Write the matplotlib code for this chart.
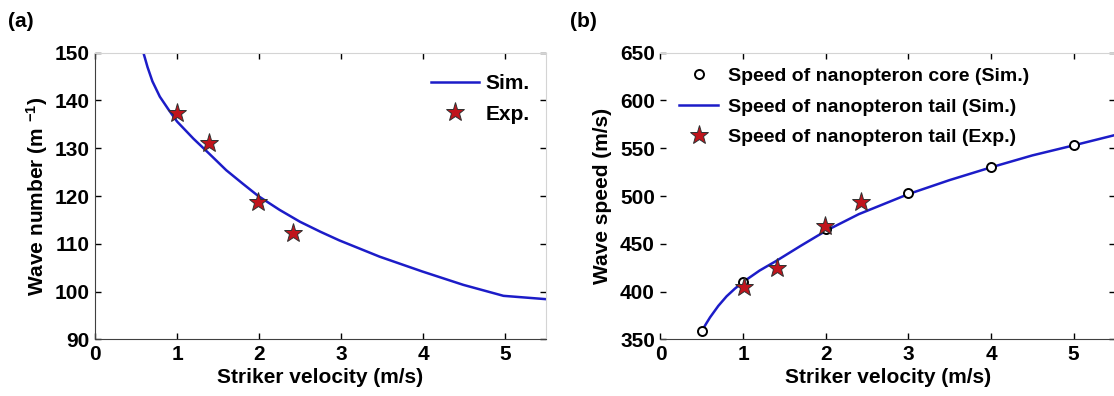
import matplotlib
matplotlib.use("Agg")
import matplotlib.pyplot as plt

plt.rcParams["font.family"] = ["Liberation Sans", "DejaVu Sans"]
plt.rcParams["font.weight"] = "bold"
plt.rcParams["mathtext.fontset"] = "custom"
plt.rcParams["mathtext.rm"] = "Liberation Sans:bold"
plt.rcParams["mathtext.it"] = "Liberation Sans:bold"
plt.rcParams["mathtext.bf"] = "Liberation Sans:bold"

# (a) wave number vs striker velocity
sim_a_x = [0.59, 0.64, 0.7, 0.79, 0.9, 1.0, 1.2, 1.39, 1.6, 1.8, 1.99, 2.25, 2.5,
           2.75, 2.98, 3.47, 3.99, 4.49, 4.98, 5.5]
sim_a_y = [150.0, 147.0, 144.0, 140.8, 138.0, 135.6, 132.0, 128.9, 125.4, 122.6,
           120.0, 117.1, 114.6, 112.5, 110.7, 107.3, 104.2, 101.4, 99.1, 98.4]
exp_a_x = [0.995, 1.39, 1.99, 2.42]
exp_a_y = [137.3, 131.0, 118.7, 112.3]

# (b) wave speed vs striker velocity
core_x = [0.5, 1, 2, 3, 4, 5]
core_y = [358.7, 410.3, 465.1, 502.8, 530.7, 553.4]
tail_sim_x = [0.5, 0.55, 0.6, 0.7, 0.8, 0.9, 1.0, 1.2, 1.4, 1.7, 2.0, 2.4, 3.0,
              3.5, 4.0, 4.5, 5.0, 5.5]
tail_sim_y = [358.5, 366.0, 373.0, 385.0, 395.0, 403.0, 410.0, 422.0, 432.0, 448.0,
              463.5, 481.0, 502.0, 516.7, 530.0, 542.5, 553.0, 563.8]
tail_exp_x = [1.01, 1.41, 1.99, 2.43]
tail_exp_y = [405.0, 425.0, 468.6, 494.0]

blue = "#1c1cc8"
star_red = "#c0141c"

fig = plt.figure(figsize=(11.14, 3.96), dpi=100)
ax1 = fig.add_axes([0.0853, 0.1432, 0.4049, 0.7237])
ax2 = fig.add_axes([0.5929, 0.1432, 0.4080, 0.7237])


def style(ax):
    ax.tick_params(direction="in", length=4, width=1, labelsize=15,
                   top=True, right=True, pad=4)
    for s in ["top", "right"]:
        ax.spines[s].set_color("#d4d4d4")
    for s in ["left", "bottom"]:
        ax.spines[s].set_color("#404040")
    ax.set_xlabel("Striker velocity (m/s)", fontsize=15, fontweight="bold", labelpad=3)
    for lab in ax.get_xticklabels() + ax.get_yticklabels():
        lab.set_fontweight("bold")


# panel (a)
ax1.plot(sim_a_x, sim_a_y, color=blue, lw=1.8, label="Sim.")
ax1.plot(exp_a_x, exp_a_y, ls="none", marker="*", ms=14, mfc=star_red,
         mec="#303030", mew=0.7, label="Exp.")
ax1.set_xlim(0, 5.5)
ax1.set_ylim(90, 150)
ax1.set_xticks([0, 1, 2, 3, 4, 5])
ax1.set_yticks([90, 100, 110, 120, 130, 140, 150])
ax1.set_ylabel(r"Wave number (m $^{-1}$)", fontsize=15, fontweight="bold", labelpad=3.5)
style(ax1)
ax1.legend(loc="upper right", frameon=False, fontsize=15, handlelength=2.3,
           borderaxespad=0.5, labelspacing=0.54, handletextpad=0.35,
           bbox_to_anchor=(1.006, 0.99))

# panel (b)
ax2.plot(core_x, core_y, ls="none", marker="o", ms=6.5, mfc="white", mec="black",
         mew=1.4, label="Speed of nanopteron core (Sim.)", zorder=3)
ax2.plot(tail_sim_x, tail_sim_y, color=blue, lw=1.8,
         label="Speed of nanopteron tail (Sim.)")
ax2.plot(tail_exp_x, tail_exp_y, ls="none", marker="*", ms=14, mfc=star_red,
         mec="#303030", mew=0.7, label="Speed of nanopteron tail (Exp.)", zorder=4)
ax2.set_xlim(0, 5.5)
ax2.set_ylim(350, 650)
ax2.set_xticks([0, 1, 2, 3, 4, 5])
ax2.set_yticks([350, 400, 450, 500, 550, 600, 650])
ax2.set_ylabel("Wave speed (m/s)", fontsize=15, fontweight="bold", labelpad=6)
style(ax2)
ax2.spines["left"].set_visible(False)
ax2.legend(loc="upper left", frameon=False, fontsize=14, handlelength=2.0,
           borderaxespad=0.0, labelspacing=0.66, handletextpad=0.52,
           bbox_to_anchor=(0.024, 0.975))

fig.text(0.007, 0.945, "(a)", fontsize=15, fontweight="bold", va="center")
fig.text(0.512, 0.945, "(b)", fontsize=15, fontweight="bold", va="center")

fig.savefig("out.png", dpi=100)
